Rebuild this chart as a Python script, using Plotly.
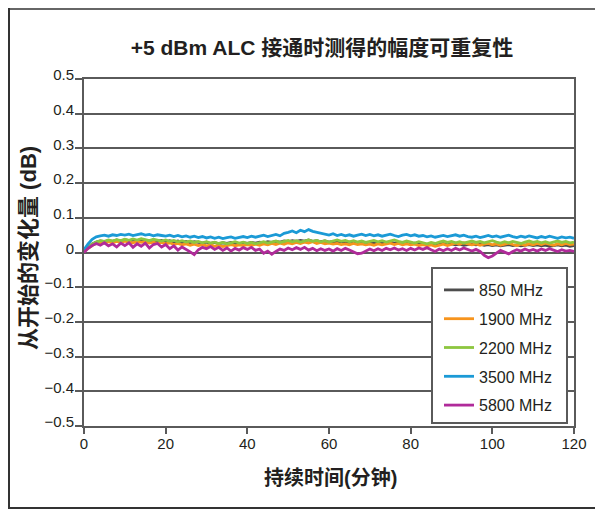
import plotly.graph_objects as go

minutes = list(range(0, 121))

s850 = [0.004, 0.015, 0.025, 0.030, 0.033, 0.031, 0.035, 0.032, 0.036, 0.033,
        0.037, 0.034, 0.036, 0.033, 0.038, 0.035, 0.032, 0.036, 0.033, 0.035,
        0.031, 0.034, 0.030, 0.033, 0.029, 0.032, 0.028, 0.031, 0.029, 0.027,
        0.030, 0.026, 0.029, 0.025, 0.028, 0.026, 0.029, 0.027, 0.024, 0.028,
        0.026, 0.029, 0.027, 0.030, 0.028, 0.031, 0.029, 0.032, 0.030, 0.033,
        0.031, 0.034, 0.032, 0.035, 0.033, 0.036, 0.032, 0.034, 0.031, 0.033,
        0.030, 0.032, 0.029, 0.031, 0.028, 0.030, 0.027, 0.029, 0.031, 0.028,
        0.030, 0.027, 0.029, 0.026, 0.028, 0.030, 0.027, 0.029, 0.026, 0.028,
        0.025, 0.027, 0.024, 0.026, 0.023, 0.025, 0.022, 0.024, 0.026, 0.023,
        0.025, 0.022, 0.024, 0.021, 0.023, 0.025, 0.022, 0.024, 0.021, 0.023,
        0.020, 0.022, 0.019, 0.021, 0.023, 0.020, 0.022, 0.019, 0.021, 0.023,
        0.020, 0.022, 0.019, 0.021, 0.018, 0.020, 0.022, 0.019, 0.021, 0.018, 0.020]

s1900 = [0.003, 0.012, 0.020, 0.026, 0.029, 0.027, 0.031, 0.028, 0.032, 0.029,
         0.033, 0.030, 0.028, 0.032, 0.029, 0.031, 0.027, 0.030, 0.026, 0.029,
         0.025, 0.028, 0.023, 0.026, 0.022, 0.025, 0.021, 0.024, 0.020, 0.023,
         0.019, 0.022, 0.018, 0.021, 0.017, 0.020, 0.023, 0.019, 0.022, 0.020,
         0.023, 0.020, 0.024, 0.021, 0.025, 0.022, 0.026, 0.023, 0.027, 0.024,
         0.028, 0.025, 0.029, 0.026, 0.030, 0.027, 0.031, 0.026, 0.029, 0.025,
         0.027, 0.024, 0.026, 0.023, 0.025, 0.022, 0.026, 0.023, 0.025, 0.022,
         0.024, 0.021, 0.025, 0.022, 0.024, 0.027, 0.023, 0.026, 0.022, 0.025,
         0.022, 0.024, 0.020, 0.023, 0.019, 0.022, 0.018, 0.021, 0.024, 0.020,
         0.023, 0.027, 0.024, 0.028, 0.025, 0.022, 0.025, 0.021, 0.024, 0.026,
         0.022, 0.025, 0.021, 0.024, 0.027, 0.023, 0.020, 0.024, 0.021, 0.025,
         0.022, 0.026, 0.023, 0.027, 0.024, 0.021, 0.025, 0.022, 0.026, 0.023, 0.024]

s2200 = [0.004, 0.014, 0.024, 0.030, 0.034, 0.032, 0.036, 0.033, 0.037, 0.034,
         0.038, 0.035, 0.039, 0.036, 0.040, 0.037, 0.034, 0.038, 0.035, 0.033,
         0.036, 0.032, 0.035, 0.031, 0.034, 0.030, 0.033, 0.029, 0.032, 0.028,
         0.031, 0.027, 0.030, 0.026, 0.029, 0.025, 0.028, 0.031, 0.027, 0.030,
         0.026, 0.029, 0.025, 0.028, 0.031, 0.027, 0.030, 0.033, 0.029, 0.032,
         0.035, 0.031, 0.034, 0.030, 0.033, 0.036, 0.032, 0.035, 0.031, 0.034,
         0.030, 0.033, 0.036, 0.032, 0.035, 0.031, 0.034, 0.030, 0.033, 0.029,
         0.032, 0.035, 0.031, 0.034, 0.030, 0.033, 0.036, 0.032, 0.029, 0.033,
         0.030, 0.027, 0.031, 0.028, 0.025, 0.029, 0.026, 0.030, 0.033, 0.029,
         0.032, 0.028, 0.031, 0.027, 0.030, 0.033, 0.029, 0.032, 0.028, 0.031,
         0.034, 0.030, 0.027, 0.031, 0.028, 0.032, 0.029, 0.026, 0.030, 0.033,
         0.029, 0.032, 0.028, 0.031, 0.027, 0.030, 0.033, 0.029, 0.032, 0.028, 0.030]

s3500 = [0.008, 0.025, 0.038, 0.045, 0.048, 0.050, 0.047, 0.051, 0.049, 0.052,
         0.050, 0.053, 0.049, 0.051, 0.054, 0.050, 0.052, 0.048, 0.051, 0.049,
         0.047, 0.050, 0.046, 0.049, 0.045, 0.048, 0.044, 0.047, 0.043, 0.046,
         0.042, 0.045, 0.041, 0.044, 0.040, 0.043, 0.045, 0.041, 0.044, 0.046,
         0.043, 0.047, 0.044, 0.048, 0.050, 0.046, 0.049, 0.052, 0.048, 0.055,
         0.058, 0.062, 0.057, 0.064, 0.060, 0.066, 0.061, 0.058, 0.055, 0.052,
         0.050, 0.054, 0.049, 0.052, 0.048, 0.051, 0.047, 0.050, 0.053, 0.049,
         0.052, 0.048, 0.051, 0.047, 0.050, 0.053, 0.049, 0.046, 0.050, 0.052,
         0.048, 0.051, 0.047, 0.049, 0.045, 0.048, 0.044, 0.047, 0.049, 0.046,
         0.048, 0.051, 0.047, 0.050, 0.046, 0.044, 0.047, 0.043, 0.046, 0.049,
         0.045, 0.048, 0.044, 0.047, 0.050, 0.046, 0.043, 0.047, 0.044, 0.048,
         0.045, 0.042, 0.046, 0.043, 0.047, 0.044, 0.041, 0.045, 0.042, 0.044, 0.041]

s5800 = [0.000, 0.012, 0.020, 0.026, 0.021, 0.028, 0.019, 0.025, 0.016, 0.027,
         0.020, 0.028, 0.015, 0.025, 0.018, 0.027, 0.013, 0.023, 0.026, 0.016,
         0.023, 0.011, 0.019, 0.007, 0.016, 0.010, 0.002, -0.006, 0.008, 0.015,
         0.011, 0.017, 0.009, 0.015, 0.006, 0.013, 0.004, 0.012, 0.007, 0.014,
         0.009, 0.015, 0.006, 0.010, -0.002, 0.004, -0.005, 0.003, 0.010, 0.006,
         0.013, 0.008, 0.014, 0.009, 0.015, 0.007, 0.012, 0.005, 0.011, 0.006,
         0.010, 0.004, 0.011, 0.006, 0.012, 0.007, 0.002, -0.004, -0.002, 0.005,
         0.010, 0.005, 0.011, 0.006, 0.012, 0.008, 0.013, 0.007, 0.011, 0.006,
         0.012, 0.007, 0.013, 0.009, 0.014, 0.008, 0.003, 0.010, 0.005, 0.011,
         0.006, 0.012, 0.007, 0.013, 0.008, 0.004, 0.009, 0.003, -0.008, -0.015,
         -0.010, -0.002, 0.006, 0.001, -0.004, 0.003, 0.008, 0.004, 0.010, 0.005,
         0.009, 0.004, 0.010, 0.006, 0.011, 0.007, 0.003, 0.008, 0.004, 0.006, 0.003]

series_names = ["850 MHz", "1900 MHz", "2200 MHz", "3500 MHz", "5800 MHz"]
series_values = [s850, s1900, s2200, s3500, s5800]
series_colors = ["#4d4d4d", "#f7941d", "#8dc63f", "#1b9ad6", "#b02a9a"]

y_ticks = [0.5, 0.4, 0.3, 0.2, 0.1, 0, -0.1, -0.2, -0.3, -0.4, -0.5]
y_tick_labels = ["0.5", "0.4", "0.3", "0.2", "0.1", "0", "\u22120.1", "\u22120.2",
                 "\u22120.3", "\u22120.4", "\u22120.5"]
x_ticks = [0, 20, 40, 60, 80, 100, 120]

title_text = "+5 dBm ALC 接通时测得的幅度可重复性"
x_title = "持续时间(分钟)"
y_title = "从开始的变化量 (dB)"

FONT = "Liberation Sans, Arial, Noto Sans CJK SC, sans-serif"
GRID = "#5a5a5a"
TXT = "#231f20"

fig = go.Figure()
for i, (name, vals, col) in enumerate(zip(series_names, series_values, series_colors)):
    fig.add_trace(go.Scatter(x=minutes, y=vals, mode="lines", name=name,
                             legendgroup=f"g{i}",
                             line=dict(color=col, width=2.8)))

# page has an 8px body margin: figure pixel = reference pixel - 8
OFF = 8
W, H = 595, 502
L, TOP, RIGHT, BOT = 84 - OFF, 79 - OFF, 574 - OFF, 426 - OFF
pw, ph = RIGHT - L, BOT - TOP


def px_x(p):
    return (p - OFF - L) / pw


def px_y(p):
    return (BOT - (p - OFF)) / ph


fig.update_layout(
    width=W, height=H,
    margin=dict(l=L, r=W - RIGHT, t=TOP, b=H - BOT),
    paper_bgcolor="white", plot_bgcolor="white",
    font=dict(family=FONT, size=15, color=TXT),
    title=dict(text=f"<b>{title_text}</b>", x=px_x(322), xref="paper", xanchor="center",
               y=1 - (48 - OFF) / H, yref="container", yanchor="middle",
               font=dict(size=21, color=TXT)),
    showlegend=True,
    legend=dict(x=px_x(439), y=px_y(273), xanchor="left", yanchor="top",
                bgcolor="rgba(0,0,0,0)", borderwidth=0,
                font=dict(size=16, color=TXT),
                tracegroupgap=5, traceorder="grouped"),
    xaxis=dict(range=[0, 120], tickvals=x_ticks, showgrid=False, zeroline=False,
               showline=True, linecolor=GRID, linewidth=2, mirror=True,
               ticks="outside", ticklen=6, tickwidth=2, tickcolor=GRID,
               tickfont=dict(size=15), ticklabelstandoff=-3),
    yaxis=dict(range=[-0.5, 0.5], tickvals=y_ticks, ticktext=y_tick_labels,
               showgrid=True, gridcolor=GRID, gridwidth=2, zeroline=False,
               showline=True, linecolor=GRID, linewidth=2, mirror=True,
               ticks="outside", ticklen=7, tickwidth=2, tickcolor=GRID,
               tickfont=dict(size=15), ticklabelshift=-4, ticklabelstandoff=-2),
    annotations=[
        dict(text=f"<b>{x_title}</b>", xref="paper", yref="paper",
             x=px_x(330), y=px_y(478), xanchor="center", yanchor="middle",
             showarrow=False, font=dict(size=20, color=TXT)),
        dict(text=f"<b>{y_title}</b>", xref="paper", yref="paper",
             x=px_x(28), y=px_y(248), xanchor="center", yanchor="middle",
             textangle=-90, showarrow=False, font=dict(size=22, color=TXT)),
    ],
    shapes=[
        # legend box
        dict(type="rect", xref="paper", yref="paper", layer="above",
             x0=px_x(432), x1=px_x(567), y0=px_y(268), y1=px_y(423),
             fillcolor="white", line=dict(color=GRID, width=2)),
        # outer frame
        dict(type="line", xref="paper", yref="paper", x0=px_x(8), x1=px_x(615),
             y0=px_y(9), y1=px_y(9), line=dict(color="#666666", width=2)),
        dict(type="line", xref="paper", yref="paper", x0=px_x(9), x1=px_x(9),
             y0=px_y(8), y1=px_y(509), line=dict(color="#333333", width=2)),
        dict(type="line", xref="paper", yref="paper", x0=px_x(8), x1=px_x(615),
             y0=px_y(508), y1=px_y(508), line=dict(color="#333333", width=2)),
    ],
)

fig.write_html("out.html")
